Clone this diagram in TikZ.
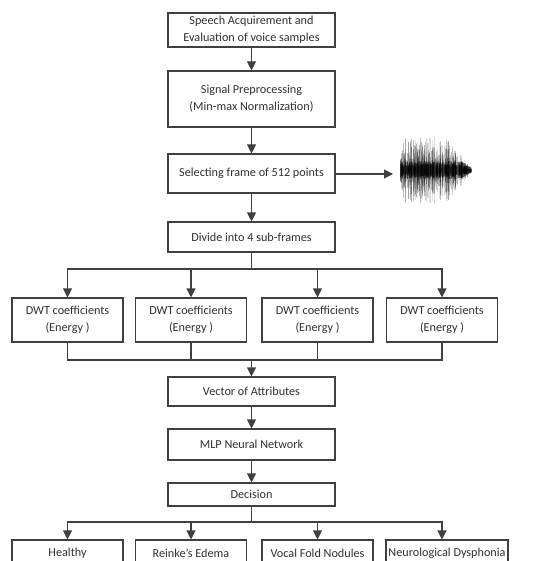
\documentclass[tikz,border=0pt]{standalone}
\usepackage{fontspec}
\setmainfont{Carlito}
\usetikzlibrary{arrows.meta}
\definecolor{linec}{HTML}{404040}
\definecolor{txtc}{HTML}{303030}

\begin{document}
\begin{tikzpicture}[x=1pt,y=1pt,
  box/.style={draw=linec, line width=1.1pt, text=txtc, align=center, inner sep=0pt,
    minimum width=167pt, font=\fontsize{12.2}{17}\selectfont},
  small/.style={box, minimum width=111pt},
  line/.style={draw=linec, line width=1.1pt},
  arr/.style={line, -{Triangle[width=9pt,length=9pt]}}]
 \useasboundingbox (0,0) rectangle (536,-561);
 \clip (0,0) rectangle (536,-561);

 % main chain
 \node[box, minimum height=34pt] (acq) at (251.5,-30) {Speech Acquirement and\\Evaluation of voice samples};
 \node[box, minimum height=56pt] (prep) at (251.5,-99) {Signal Preprocessing\\(Min-max Normalization)};
 \node[box, minimum height=39pt] (frame) at (251.5,-173.5) {Selecting frame of 512 points};
 \node[box, minimum height=30pt] (div) at (251.5,-237) {Divide into 4 sub-frames};

 \node[small, minimum height=44pt] (dwt1) at (67.5,-320) {DWT coefficients\\(Energy )};
 \node[small, minimum height=44pt] (dwt2) at (191,-320) {DWT coefficients\\(Energy )};
 \node[small, minimum height=44pt] (dwt3) at (317.5,-320) {DWT coefficients\\(Energy )};
 \node[small, minimum height=44pt] (dwt4) at (442,-320) {DWT coefficients\\(Energy )};

 \node[box, minimum height=29pt] (vec) at (251.5,-391.5) {Vector of Attributes};
 \node[box, minimum height=31pt] (mlp) at (251.5,-444.5) {MLP Neural Network};
 \node[box, minimum height=23pt] (dec) at (251.5,-494.5) {Decision};

 \node[small, minimum height=26pt] (cls1) at (67.5,-553) {Healthy};
 \node[small, minimum height=26pt] (cls2) at (191,-553) {Reinke’s Edema};
 \node[small, minimum height=26pt] (cls3) at (317.5,-553) {Vocal Fold Nodules};
 \node[small, minimum height=26pt, minimum width=122pt] (cls4) at (447,-553) {Neurological Dysphonia};

 \coordinate (split) at (251.5,-269);
 \coordinate (merge) at (251.5,-360);
 \coordinate (split2) at (251.5,-522);
 \coordinate (wave) at (393,-174);

 \draw[arr] (acq) -- (prep);
 \draw[arr] (prep) -- (frame);
 \draw[arr] (frame) -- (div);
 \draw[arr] (frame.east |- wave) -- (wave);

 \draw[line] (div.south) -- (split);
 \foreach \i in {1,...,4}
   \draw[arr] (split) -| (dwt\i.north);
 \foreach \i in {1,...,4}
   \draw[line] (dwt\i.south) |- (merge);
 \draw[arr] (merge) -- (vec.north);

 \draw[arr] (vec) -- (mlp);
 \draw[arr] (mlp) -- (dec);
 \draw[line] (dec.south) -- (split2);
 \foreach \i in {1,...,3}
   \draw[arr] (split2) -| (cls\i.north);
 \draw[arr] (split2) -| (dwt4 |- cls4.north);

 % waveform
 \pgfmathsetseed{11}
 \foreach \k in {1,...,500} {
   \pgfmathsetmacro\wx{400+72*rnd}
   \pgfmathsetmacro\wh{(0.15+0.85*rnd^2)*33*min(1,(473-\wx)/28)*min(1,(\wx-397)/8)}
   \pgfmathsetmacro\wo{0.08+0.2*rnd}
   \draw[black, opacity=\wo, line width=1pt] (\wx,-171-\wh) -- (\wx,-170+\wh);
 }
 \foreach \k in {1,...,300} {
   \pgfmathsetmacro\wx{401+70*rnd}
   \pgfmathsetmacro\wh{(2+7*rnd)*min(1,(474-\wx)/12)}
   \draw[black, opacity=0.3, line width=1.2pt] (\wx,-170-\wh) -- (\wx,-170+\wh);
 }
\end{tikzpicture}
\end{document}
